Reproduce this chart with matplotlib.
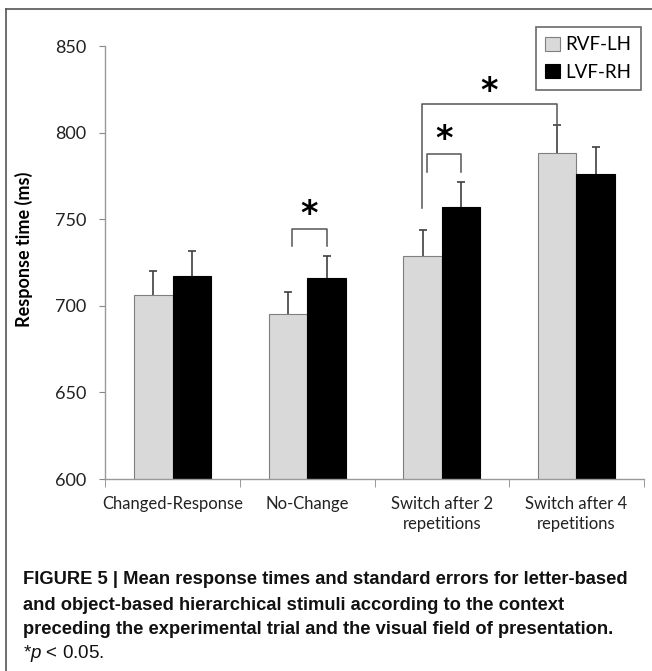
import matplotlib
matplotlib.use("Agg")
import matplotlib.pyplot as plt
import numpy as np

plt.rcParams['font.family'] = ['Lato', 'DejaVu Sans']
plt.rcParams['mathtext.fontset'] = 'custom'
plt.rcParams['mathtext.rm'] = 'Liberation Sans'
plt.rcParams['mathtext.it'] = 'Liberation Sans:italic'

categories = ["Changed-Response", "No-Change", "Switch after 2\nrepetitions", "Switch after 4\nrepetitions"]
rvf_lh = [706, 695, 729, 788]
lvf_rh = [717, 716, 757, 776]
rvf_err = [14, 13, 15, 16.5]
lvf_err = [14.5, 13, 14.5, 15.5]
series_names = ["RVF-LH", "LVF-RH"]

# significance brackets: (x_left, x_right, top, left_leg_bottom, right_leg_bottom, star_y)
brackets = [
    (0.89, 1.143, 744.5, 734.5, 734.5, 753),
    (1.89, 2.143, 787.5, 777.5, 777.0, 796),
    (1.85, 2.857, 816.5, 756.5, 804.5, 824),
]

fig = plt.figure(figsize=(6.52, 6.71), dpi=100)
ax = fig.add_axes([0.1617, 0.2861, 0.8256, 0.6453])

x = np.arange(len(categories))
w = 0.286
gray_bars = ax.bar(x - w / 2, rvf_lh, w, color="#d9d9d9", edgecolor="#7f7f7f", linewidth=0.8, label=series_names[0], zorder=2)
black_bars = ax.bar(x + w / 2, lvf_rh, w, color="#000000", edgecolor="#000000", linewidth=0.8, label=series_names[1], zorder=2)

# upper error bars only, drop the cap at the bar top
for xs, vals, errs in [(x - w / 2, rvf_lh, rvf_err), (x + w / 2, lvf_rh, lvf_err)]:
    eb = ax.errorbar(xs, vals, yerr=[np.zeros(4), errs], fmt="none", ecolor="#404040",
                     elinewidth=1.2, capsize=3, capthick=1.2, zorder=3)
    eb[1][0].set_visible(False)

for xl, xr, top, lb, rb, sy in brackets:
    ax.plot([xl, xl, xr, xr], [lb, top, top, rb], color="#555555", lw=1.1, zorder=4)
    ax.text((xl + xr) / 2, sy, "*", ha="center", va="center", fontsize=24, fontweight="bold", family="DejaVu Sans")

ax.set_xlim(-0.5, 3.5)
ax.set_ylim(600, 850)
ax.set_yticks([600, 650, 700, 750, 800, 850])
ax.tick_params(axis="y", labelsize=13, length=4, color="#888888", pad=10, labelcolor="#222222")
ax.set_xticks(x)
ax.set_xticklabels(categories, fontsize=12, color="#222222", linespacing=1.35)
ax.tick_params(axis="x", length=0, pad=12)
ax.set_xticks([-0.5, 0.5, 1.5, 2.5, 3.5], minor=True)
ax.tick_params(axis="x", which="minor", length=6, color="#888888")

for s in ["top", "right"]:
    ax.spines[s].set_visible(False)
for s in ["left", "bottom"]:
    ax.spines[s].set_color("#999999")
    ax.spines[s].set_linewidth(1)

ax.set_ylabel("Response time (ms)", fontsize=13, fontweight="bold")
ax.yaxis.set_label_coords(-0.135, 0.53)

leg = fig.legend(handles=[gray_bars, black_bars], labels=series_names, loc="upper right",
                 bbox_to_anchor=(641 / 652, 1 - 27 / 671), frameon=True, fancybox=False,
                 fontsize=13.5, handlelength=0.8, handleheight=0.8, handletextpad=0.3,
                 borderpad=0.5, labelspacing=0.55, borderaxespad=0)
leg.get_frame().set_edgecolor("#444444")
leg.get_frame().set_linewidth(1.2)

# figure frame (top and left edges)
fig.add_artist(plt.Line2D([6 / 652, 6 / 652], [0, 1 - 9 / 671], color="#555555", lw=1.2))
fig.add_artist(plt.Line2D([6 / 652, 1], [1 - 9 / 671, 1 - 9 / 671], color="#555555", lw=1.2))

cap_font = ['Liberation Sans', 'DejaVu Sans']
caption = ["FIGURE 5 | Mean response times and standard errors for letter-based",
           "and object-based hierarchical stimuli according to the context",
           "preceding the experimental trial and the visual field of presentation."]
cap_y = [580, 605, 629]
for line, yy in zip(caption, cap_y):
    fig.text(23 / 652, 1 - yy / 671, line, fontsize=13.2, fontweight="bold", family=cap_font, va="center", ha="left", color="#111111")
fig.text(23 / 652, 1 - 653 / 671, r"*$\mathit{p}$ < 0.05.", fontsize=13.5, family=cap_font, va="center", ha="left", color="#111111")

fig.savefig("out.png", dpi=100)
